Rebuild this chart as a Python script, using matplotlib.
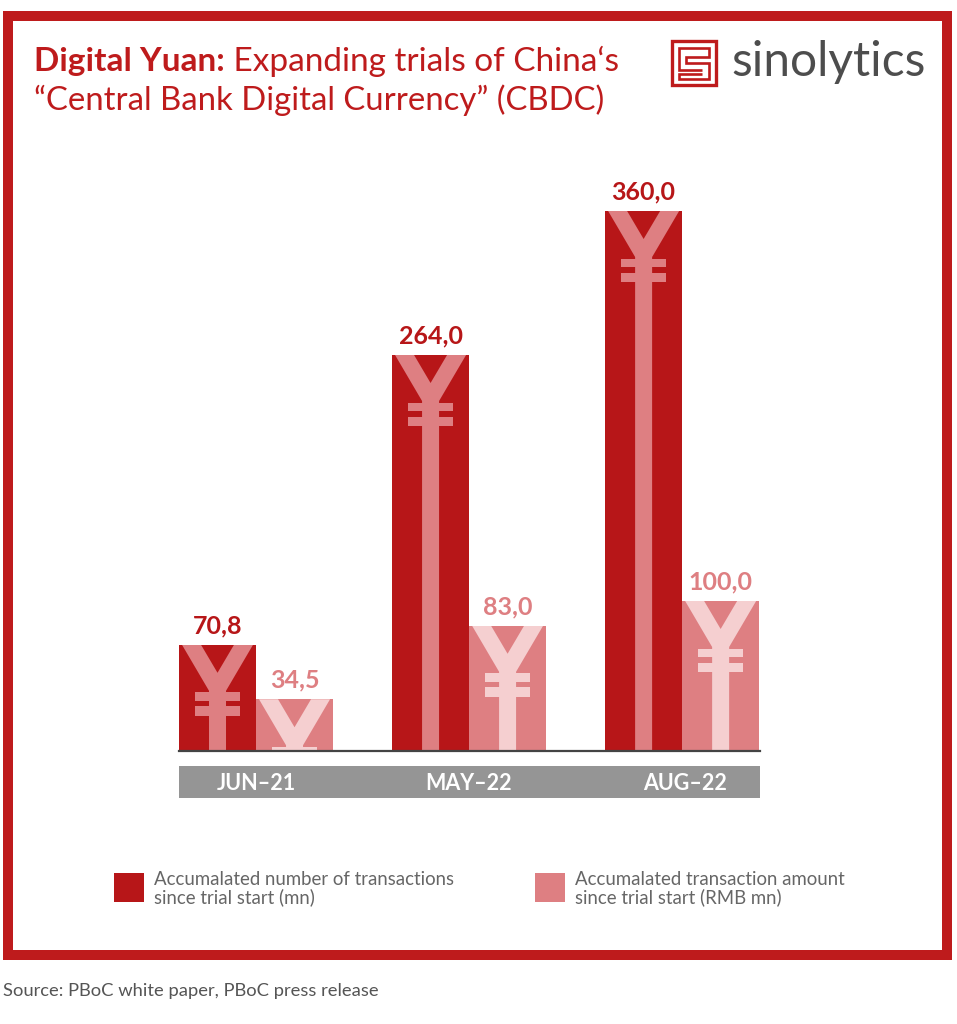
import matplotlib
matplotlib.use("Agg")
import matplotlib.pyplot as plt
from matplotlib.patches import Rectangle, Polygon

# ---- data ----
periods = ["JUN-21", "MAY-22", "AUG-22"]
transactions = [70.8, 264.0, 360.0]
amounts = [34.5, 83.5, 100.0]
value_labels_1 = ["70,8", "264,0", "360,0"]
value_labels_2 = ["34,5", "83,0", "100,0"]
series_labels = ["Accumalated number of transactions\nsince trial start (mn)",
                 "Accumalated transaction amount\nsince trial start (RMB mn)"]
title_bold = "Digital Yuan:"
title_rest = " Expanding trials of China\u2018s"
title_line2 = "\u201cCentral Bank Digital Currency\u201d (CBDC)"
source = "Source: PBoC white paper, PBoC press release"

W, H = 957, 1024
DARK = "#B71618"
LIGHT = "#DE7F82"
PALE = "#F5CFD0"
BORDER = "#BE1B1C"
GRAY = "#959595"
FONT = "Lato"

plt.rcParams["font.family"] = [FONT, "DejaVu Sans"]
fig = plt.figure(figsize=(W / 100, H / 100), dpi=100, facecolor="white")

# overlay in pixel coordinates for frame/title/logo/legend
ov = fig.add_axes([0, 0, 1, 1])
ov.set_xlim(0, W)
ov.set_ylim(H, 0)
ov.axis("off")

# chart axes: baseline at y=751px, 1.5 px per unit, bars 77 px wide, groups 213 px apart
PX_X0, PX_X1, PX_BASE, PX_TOP = 179, 760, 751, 160
ax = fig.add_axes([PX_X0 / W, 1 - PX_BASE / H, (PX_X1 - PX_X0) / W, (PX_BASE - PX_TOP) / H])
bw = 77 / 213
ax.set_xlim(-bw, 2 + bw + 0.004)
ax.set_ylim(0, (PX_BASE - PX_TOP) / 1.5)
ax.patch.set_alpha(0)
ax.set_yticks([])
ax.set_xticks([])
for s in ["top", "left", "right"]:
    ax.spines[s].set_visible(False)
ax.spines["bottom"].set_linewidth(1.6)
ax.spines["bottom"].set_color("#444444")
ax.spines["bottom"].set_zorder(6)


def yen(bar, color):
    """Yen sign hanging from the bar top, clipped to the bar."""
    x0 = bar.get_x()
    w = bar.get_width()
    top = bar.get_height()
    sx = w / 77
    sy = 1 / 1.5
    full = top / sy

    def P(pts):
        return [(x0 + px * sx, top - py * sy) for px, py in pts]
    shapes = [
        [(3, 0), (22, 0), (38.5, 28), (55, 0), (74, 0), (47, 46),
         (47, full), (30, full), (30, 46)],
        [(16, 47.5), (61, 47.5), (61, 56), (16, 56)],
        [(16, 61.5), (61, 61.5), (61, 71), (16, 71)],
    ]
    for pts in shapes:
        p = Polygon(P(pts), closed=True, fc=color, ec="none", zorder=3)
        ax.add_patch(p)
        p.set_clip_path(bar)


xs = list(range(len(periods)))
b1 = ax.bar([x - bw / 2 for x in xs], transactions, bw, color=DARK, zorder=2)
b2 = ax.bar([x + bw / 2 for x in xs], amounts, bw, color=LIGHT, zorder=2)
for bar, val, lab in zip(b1, transactions, value_labels_1):
    yen(bar, LIGHT)
    ax.annotate(lab, (bar.get_x() + bw / 2, val), xytext=(0, 5.5),
                textcoords="offset points", ha="center", va="bottom",
                fontsize=18, fontweight="bold", color=DARK)
for bar, val, lab in zip(b2, amounts, value_labels_2):
    yen(bar, PALE)
    ax.annotate(lab, (bar.get_x() + bw / 2, val), xytext=(0, 5.5),
                textcoords="offset points", ha="center", va="bottom",
                fontsize=18, fontweight="bold", color=LIGHT)

# category band
ov.add_patch(Rectangle((179, 766), 581, 32, fc=GRAY, ec="none"))
for xc, lab in zip([256, 469, 685], periods):
    ov.text(xc, 783, lab.replace("-", "\u2013"), color="white", ha="center", va="center",
            fontsize=15.5, fontweight="bold")

# frame
ov.add_patch(Rectangle((8, 15.5), 939, 939.5, fc="none", ec=BORDER, lw=7.2, joinstyle="miter"))

# title
t = ov.text(34, 61, title_bold, color=BORDER, fontsize=24, fontweight="bold", va="center", ha="left")
fig.canvas.draw()
bb = t.get_window_extent()
ov.text(bb.x1, 61, title_rest, color=BORDER, fontsize=24, va="center", ha="left")
ov.text(34, 100.5, title_line2, color=BORDER, fontsize=23.7, va="center", ha="left")

# logo
lx, ly, ls = 672, 41, 44
ov.add_patch(Rectangle((lx, ly), ls, ls, fc="none", ec=BORDER, lw=2.4, joinstyle="miter"))
s_x = [30, 7, 7, 37, 37, 14, 14, 37, 37, 7, 7, 30]
s_y = [29, 29, 7, 7, 16, 16, 22, 22, 38, 38, 33, 33]
ov.plot([lx + a for a in s_x], [ly + b for b in s_y], color=BORDER, lw=1.9,
        solid_joinstyle="miter", solid_capstyle="butt")
ov.text(731.5, 62, "sinolytics", color="#4D4D4D", fontsize=34.5, va="center", ha="left")

# legend
for lx0, c, lab in zip([114, 535], [DARK, LIGHT], series_labels):
    ov.add_patch(Rectangle((lx0, 873), 29.5, 29, fc=c, ec="none"))
    ov.text(lx0 + 40, 888.5, lab, color="#666666", fontsize=13.4, va="center", ha="left", linespacing=1.05)

# source
ov.text(3, 991, source, color="#555555", fontsize=13.2, va="center", ha="left")

fig.savefig("out.png", dpi=100)
